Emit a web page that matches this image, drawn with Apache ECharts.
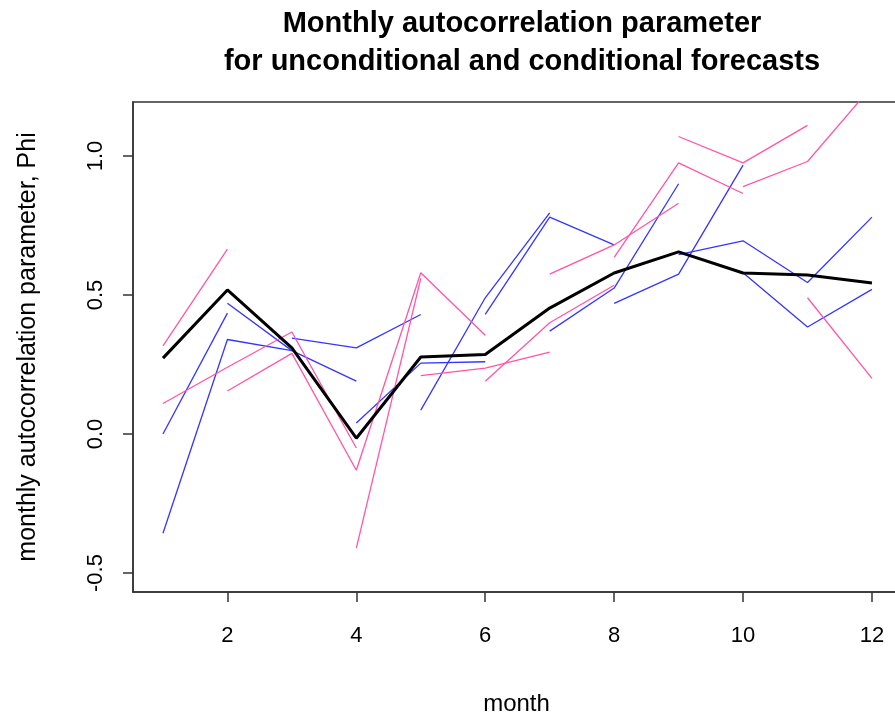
<!DOCTYPE html>
<html>
<head>
<meta charset="utf-8">
<script src="https://cdn.jsdelivr.net/npm/echarts@6/dist/echarts.min.js"></script>
<style>html,body{margin:0;padding:0;background:#fff}#main{width:895px;height:715px}</style>
</head>
<body>
<div id="main"></div>
<script>
var months = [1, 2, 3, 4, 5, 6, 7, 8, 9, 10, 11, 12];
var xTicks = [2, 4, 6, 8, 10, 12];
var yTicks = [-0.5, 0, 0.5, 1.0];

// overall (black)
var overall = [0.273, 0.518, 0.31, -0.015, 0.277, 0.286, 0.453, 0.579, 0.655, 0.579, 0.572, 0.543];

// unconditional / conditional pieces, null = not drawn
var bluePieces = [
    [0.0, 0.435, null, null, null, null, null, null, null, null, null, null],
    [-0.357, 0.34, 0.30, null, null, null, null, null, null, null, null, null],
    [null, 0.47, 0.30, 0.19, null, null, null, null, null, null, null, null],
    [null, null, 0.345, 0.31, 0.43, null, null, null, null, null, null, null],
    [null, null, null, 0.04, 0.255, 0.26, null, null, null, null, null, null],
    [null, null, null, null, 0.086, 0.49, 0.795, null, null, null, null, null],
    [null, null, null, null, null, 0.43, 0.78, 0.68, null, null, null, null],
    [null, null, null, null, null, null, 0.37, 0.525, 0.90, null, null, null],
    [null, null, null, null, null, null, null, 0.47, 0.575, 0.967, null, null],
    [null, null, null, null, null, null, null, null, 0.645, 0.695, 0.545, 0.78],
    [null, null, null, null, null, null, null, null, null, 0.58, 0.385, 0.52]
];
var pinkPieces = [
    [0.317, 0.665, null, null, null, null, null, null, null, null, null, null],
    [0.11, 0.24, 0.367, -0.05, null, null, null, null, null, null, null, null],
    [null, 0.155, 0.29, -0.13, 0.58, 0.355, null, null, null, null, null, null],
    [null, null, null, -0.41, 0.56, null, null, null, null, null, null, null],
    [null, null, null, null, 0.21, 0.237, 0.295, null, null, null, null, null],
    [null, null, null, null, null, 0.19, 0.40, 0.535, null, null, null, null],
    [null, null, null, null, null, null, 0.575, 0.68, 0.83, null, null, null],
    [null, null, null, null, null, null, null, 0.635, 0.975, 0.865, null, null],
    [null, null, null, null, null, null, null, null, 1.07, 0.975, 1.11, null],
    [null, null, null, null, null, null, null, null, null, 0.89, 0.98, 1.25],
    [null, null, null, null, null, null, null, null, null, null, 0.49, 0.20]
];

function pairs(vals) {
    return vals.map(function (v, i) { return [months[i], v]; });
}
function pieceSeries(vals, color) {
    return {
        type: 'line', data: pairs(vals), showSymbol: false, connectNulls: false,
        silent: true, animation: false,
        lineStyle: {color: color, width: 1.3}
    };
}

var series = [];
bluePieces.forEach(function (p) { series.push(pieceSeries(p, '#3535ff')); });
pinkPieces.forEach(function (p) { series.push(pieceSeries(p, '#ff55a8')); });
series.push({
    type: 'line', data: pairs(overall), showSymbol: false, animation: false,
    lineStyle: {color: '#000', width: 3}, z: 5
});

var chart = echarts.init(document.getElementById('main'));
chart.setOption({
    backgroundColor: '#fff',
    textStyle: {fontFamily: 'Liberation Sans'},
    title: {
        text: 'Monthly autocorrelation parameter\nfor unconditional and conditional forecasts',
        left: 517, top: 0, textAlign: 'center',
        textStyle: {fontSize: 29, fontWeight: 'bold', color: '#000', lineHeight: 38, fontFamily: 'Liberation Sans'}
    },
    grid: {left: 133, top: 102, width: 767, height: 490, containLabel: false, outerBoundsMode: 'none'},
    xAxis: {
        type: 'value', min: 0.535, max: 12.435,
        name: 'month', nameLocation: 'middle', nameGap: 100,
        nameTextStyle: {fontSize: 24, color: '#000'},
        axisLine: {show: true, onZero: false, lineStyle: {color: '#333', width: 1.5}},
        axisTick: {show: true, length: 10, customValues: xTicks, lineStyle: {color: '#333', width: 1.5}},
        axisLabel: {customValues: xTicks, fontSize: 22, color: '#000', margin: 33},
        splitLine: {show: false}
    },
    yAxis: {
        type: 'value', min: -0.568, max: 1.194,
        name: 'monthly autocorrelation parameter, Phi', nameLocation: 'middle', nameGap: 92,
        nameTextStyle: {fontSize: 25, color: '#000'},
        axisLine: {show: true, onZero: false, lineStyle: {color: '#333', width: 1.5}},
        axisTick: {show: true, length: 10, customValues: yTicks, lineStyle: {color: '#333', width: 1.5}},
        axisLabel: {customValues: yTicks, fontSize: 22, color: '#000', rotate: 90, margin: 26,
            formatter: function (v) { return v.toFixed(1); }},
        splitLine: {show: false}
    },
    graphic: [{
        type: 'rect', shape: {x: 133, y: 102, width: 767, height: 490},
        style: {fill: 'none', stroke: '#333', lineWidth: 1.5}, silent: true
    }],
    series: series
});
</script>
</body>
</html>
